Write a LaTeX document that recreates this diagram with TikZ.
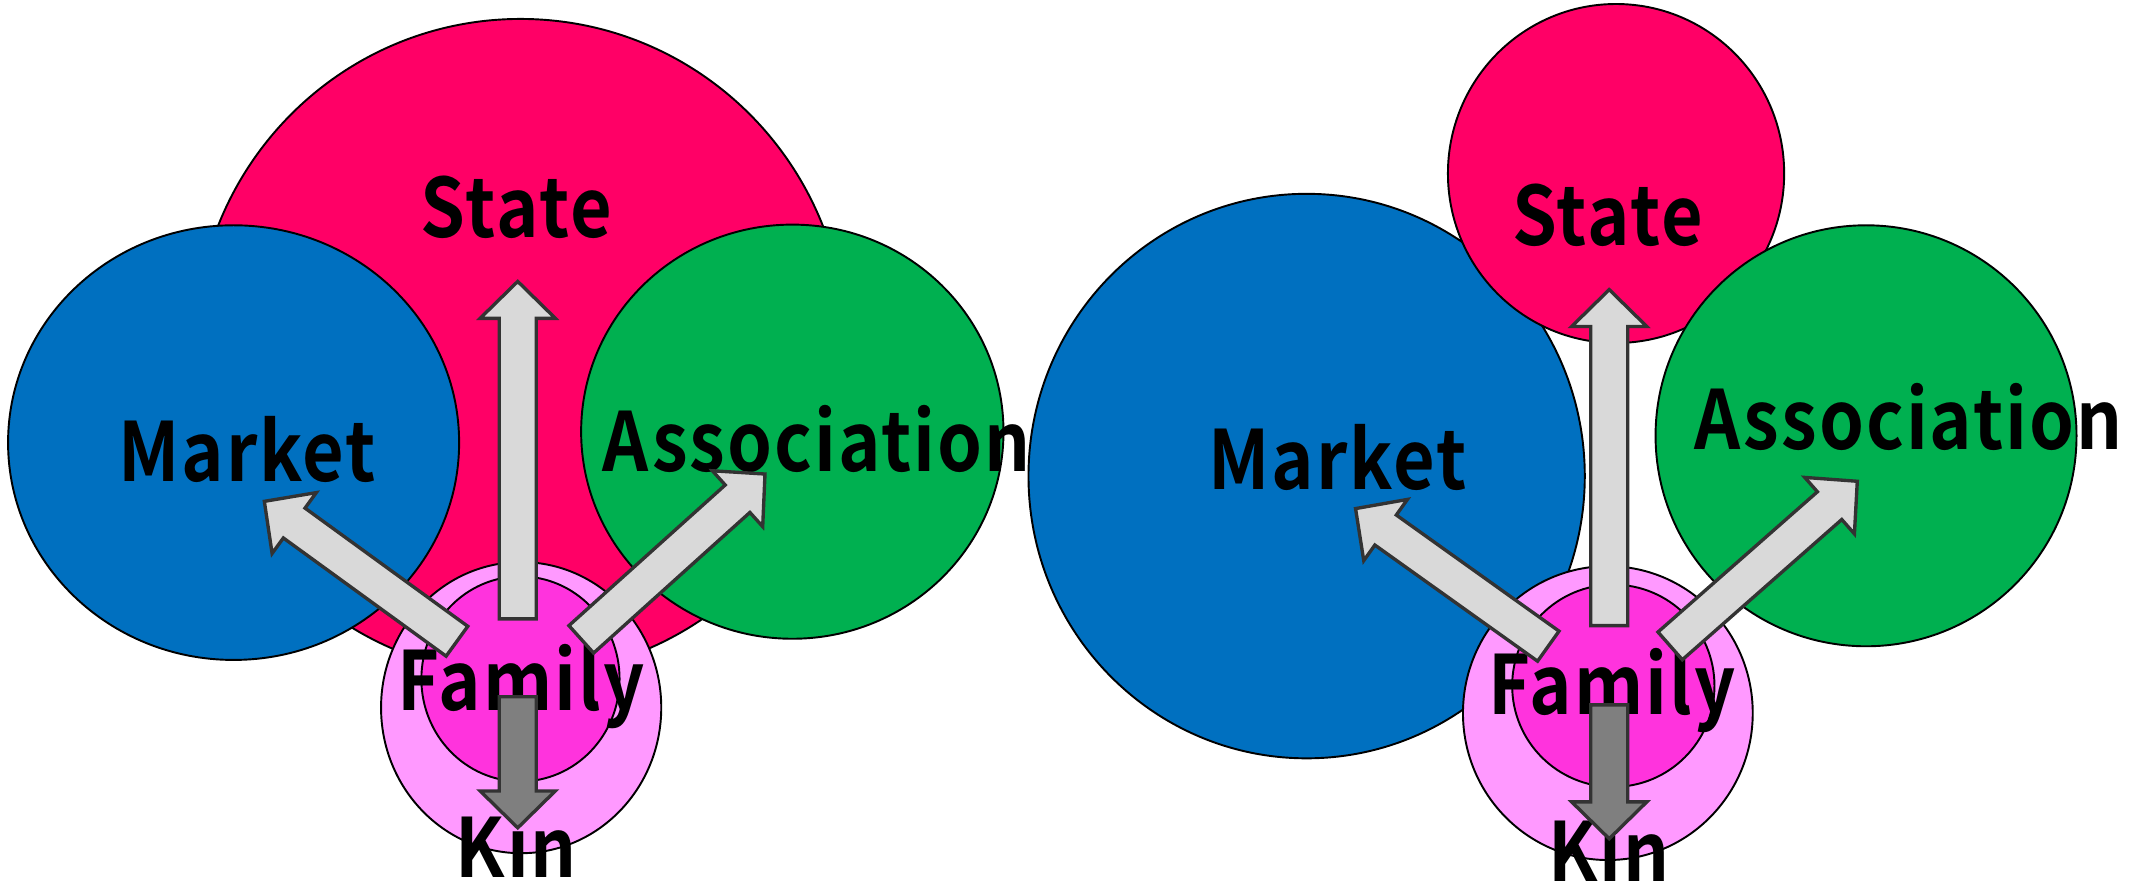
\documentclass[tikz,border=0pt]{standalone}
\usepackage{fontspec}
\newfontfamily\lblfont{Noto Sans CJK JP Bold}[FakeStretch=0.88, LetterSpace=2.5]
\usetikzlibrary{shapes.geometric,calc}

\definecolor{statered}{HTML}{FF0066}
\definecolor{marketblue}{HTML}{0070C0}
\definecolor{assocgreen}{HTML}{00B050}
\definecolor{kinpink}{HTML}{FF99FF}
\definecolor{familypink}{HTML}{FF33DD}
\definecolor{arrowgray}{HTML}{D9D9D9}
\definecolor{kingray}{HTML}{7F7F7F}
\definecolor{edgegray}{HTML}{333333}

\tikzset{
  blob/.style={ellipse, draw=black, line width=0.4pt, inner sep=0pt},
  lbl/.style={font=\lblfont\fontsize{17}{20}\selectfont, anchor=base, inner sep=0pt},
  bigarrow/.style={draw=edgegray, line width=0.7pt, fill=arrowgray, line join=miter},
  kinarrow/.style={bigarrow, fill=kingray}
}

% block arrow: #1 tail, #2 tip, #3 style
\newcommand{\blockarrow}[3]{%
  \coordinate (#2-h) at ($(#2)!0.27cm!(#1)$);
  \draw[#3] ($(#1)!0.135cm!90:(#2)$) -- ($(#2-h)!0.135cm!90:(#2)$)
    -- ($(#2-h)!0.275cm!90:(#2)$) -- (#2) -- ($(#2-h)!0.275cm!-90:(#2)$)
    -- ($(#2-h)!0.135cm!-90:(#2)$) -- ($(#1)!0.135cm!-90:(#2)$) -- cycle;
}

\begin{document}
\begin{tikzpicture}[x=0.01cm, y=-0.01cm]
\useasboundingbox (0,0) rectangle (1568,648);

% Left: large state
\node[blob, fill=statered, minimum width=4.76cm, minimum height=4.8cm] (lstate) at (381,254) {};
\node[blob, fill=marketblue, minimum width=3.3cm, minimum height=3.18cm] (lmarket) at (171,324) {};
\node[blob, fill=assocgreen, minimum width=3.09cm, minimum height=3.03cm] (lassoc) at (580,316) {};
\node[blob, fill=kinpink, minimum width=2.05cm, minimum height=2.13cm] (lkin) at (381.5,518) {};
\node[blob, fill=familypink, minimum width=1.45cm, minimum height=1.5cm] (lfamily) at (381,497) {};

\node[lbl] (lstate-t) at (378,174) {State};
\node[lbl] (lmarket-t) at (181,352.5) {Market};
\node[lbl] (lassoc-t) at (598,345.5) {Association};
\node[lbl] (lfamily-t) at (381.5,520) {Family};
\node[lbl] (lkin-t) at (378,642) {Kin};

\coordinate (lf-s) at (379,453);   \coordinate (ls-in) at (379,206);
\coordinate (lf-m) at (334.5,469.4); \coordinate (lm-in) at (193.5,367);
\coordinate (lf-a) at (425.5,468); \coordinate (la-in) at (560,347);
\coordinate (lf-k) at (379,510);   \coordinate (lk-in) at (379,606);
\blockarrow{lf-s}{ls-in}{bigarrow}
\blockarrow{lf-m}{lm-in}{bigarrow}
\blockarrow{lf-a}{la-in}{bigarrow}
\blockarrow{lf-k}{lk-in}{kinarrow}

% Right: large market
\node[blob, fill=marketblue, minimum width=4.07cm, minimum height=4.13cm] (rmarket) at (956.5,348.5) {};
\node[blob, fill=statered, minimum width=2.46cm, minimum height=2.48cm] (rstate) at (1183,127) {};
\node[blob, fill=assocgreen, minimum width=3.08cm, minimum height=3.08cm] (rassoc) at (1366,319) {};
\node[blob, fill=kinpink, minimum width=2.12cm, minimum height=2.15cm] (rkin) at (1177,522) {};
\node[blob, fill=familypink, minimum width=1.48cm, minimum height=1.48cm] (rfamily) at (1181,502) {};

\node[lbl] (rstate-t) at (1177,180) {State};
\node[lbl] (rmarket-t) at (979,358) {Market};
\node[lbl] (rassoc-t) at (1397,328.8) {Association};
\node[lbl] (rfamily-t) at (1180,523) {Family};
\node[lbl] (rkin-t) at (1178,645) {Kin};

\coordinate (rf-s) at (1178,458);    \coordinate (rs-in) at (1178,212);
\coordinate (rf-m) at (1133.4,473);  \coordinate (rm-in) at (992.3,372.3);
\coordinate (rf-a) at (1222.6,472.8); \coordinate (ra-in) at (1359.6,352.3);
\coordinate (rf-k) at (1178,516);    \coordinate (rk-in) at (1178,614);
\blockarrow{rf-s}{rs-in}{bigarrow}
\blockarrow{rf-m}{rm-in}{bigarrow}
\blockarrow{rf-a}{ra-in}{bigarrow}
\blockarrow{rf-k}{rk-in}{kinarrow}

\end{tikzpicture}
\end{document}
